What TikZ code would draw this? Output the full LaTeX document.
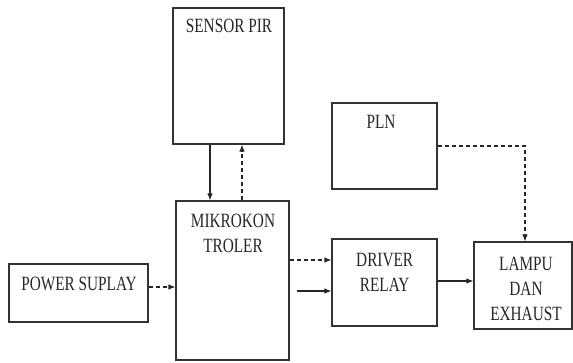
\documentclass[tikz,border=0pt]{standalone}
\usepackage{fontspec}
\setmainfont{Liberation Serif}
\usetikzlibrary{arrows.meta,calc}
\newcommand{\tx}[1]{\scalebox{1.02}[1.35]{#1}}
\begin{document}
\begin{tikzpicture}[x=1pt,y=-1pt,
  blk/.style={draw=black!80,line width=1.1pt,rectangle,inner sep=0pt},
  lbl/.style={text=black!85,align=center,inner sep=0pt,font=\fontsize{15}{25}\selectfont},
  solidarr/.style={draw=black!85,line width=1.1pt,-{Latex[length=7pt,width=5.5pt]}},
  dasharr/.style={draw=black!85,line width=1.1pt,dash pattern=on 4pt off 3pt,-{Latex[length=7pt,width=5.5pt]}}]
\useasboundingbox (0,0) rectangle (573,362);
% boxes
\node[blk,minimum width=111pt,minimum height=136pt] (sensor) at (228.5,76) {};
\node[blk,minimum width=113pt,minimum height=159pt] (mikro) at (232.5,280.5) {};
\node[blk,minimum width=139pt,minimum height=58pt] (power) at (78.5,293) {};
\node[blk,minimum width=105pt,minimum height=86pt] (pln) at (384.5,146) {};
\node[blk,minimum width=105pt,minimum height=87pt] (driver) at (384.5,282.5) {};
\node[blk,minimum width=98pt,minimum height=87pt] (lampu) at (523,285.5) {};
% labels
\node[lbl] (sensort) at (229,26) {\tx{SENSOR PIR}};
\node[lbl] (mikrot) at (233,233) {\tx{MIKROKON}\\\tx{TROLER}};
\node[lbl] (powert) at (79,284) {\tx{POWER SUPLAY}};
\node[lbl] (plnt) at (381,121.5) {\tx{PLN}};
\node[lbl] (drivert) at (384.7,272.5) {\tx{DRIVER}\\\tx{RELAY}};
\node[lbl] (lamput) at (526,288.5) {\tx{LAMPU}\\\tx{DAN}\\\tx{EXHAUST}};
% connectors
\draw[solidarr] (sensor.south -| 210,0) -- (mikro.north -| 210,0);
\draw[dasharr] (mikro.north -| 242,0) -- (sensor.south -| 242,0);
\draw[dasharr] (power.east |- 0,287) -- (mikro.west |- 0,287);
\draw[dasharr] (mikro.east |- 0,260) -- (driver.west |- 0,260);
\coordinate (sfree) at (297,291);
\draw[solidarr] (sfree) -- (driver.west |- sfree);
\draw[solidarr] (driver.east |- 0,281) -- (lampu.west |- 0,281);
\draw[dasharr] (pln.east) -- (525,146) -- (lampu.north -| 525,0);
\end{tikzpicture}
\end{document}
